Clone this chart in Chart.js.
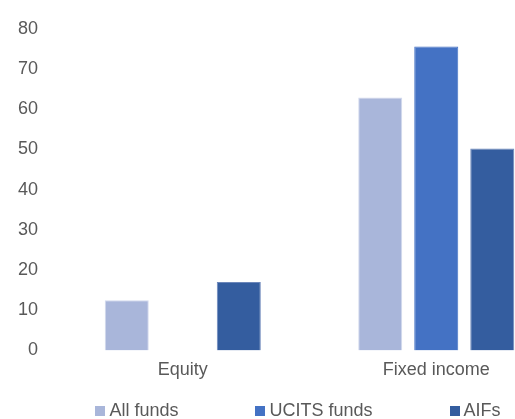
<!DOCTYPE html>
<html>
<head>
<meta charset="utf-8">
<script src="https://cdn.jsdelivr.net/npm/chart.js@4"></script>
<style>
  html, body { margin: 0; padding: 0; background: #fff; overflow: hidden; }
  #wrap { position: absolute; left: 0; top: 0; width: 563px; height: 419px; }
  #legend {
    position: absolute; left: 0; top: 400px; width: 596px;
    display: flex; justify-content: center; gap: 77px;
    font: 18px "Liberation Sans", Arial, sans-serif; color: #595959;
  }
  #legend .item { display: flex; align-items: baseline; white-space: nowrap; }
  #legend .box { display: inline-block; width: 10px; height: 10px; margin-right: 4px; }
</style>
</head>
<body>
<div id="wrap"><canvas id="fundChart"></canvas></div>
<div id="legend"></div>
<script>
// asset classes on the x axis
var categories = ['Equity', 'Fixed income'];

// share per fund type, %
var seriesNames = ['All funds', 'UCITS funds', 'AIFs'];
var allFunds = [12.5, 62.9];
var ucitsFunds = [0, 75.6];
var aifs = [17.0, 50.2];

var yTicks = [0, 10, 20, 30, 40, 50, 60, 70, 80];

var colors = ['#A9B6DA', '#4472C4', '#345D9F'];
var edges = ['#D3DAEE', '#4472C4', '#6C87BA'];

var values = [allFunds, ucitsFunds, aifs];

var datasets = seriesNames.map(function (name, i) {
    return {
        label: name,
        data: values[i],
        backgroundColor: colors[i],
        borderColor: edges[i],
        borderWidth: { top: 1, left: 1, right: 1, bottom: 0 },
        barPercentage: 0.786,
        categoryPercentage: 0.663
    };
});

var textColor = '#595959';
var fontFamily = '"Liberation Sans", Arial, sans-serif';

var ctx = document.getElementById('fundChart').getContext('2d');

var chart = new Chart(ctx, {
    type: 'bar',
    data: {
        labels: categories,
        datasets: datasets
    },
    options: {
        responsive: true,
        maintainAspectRatio: false,
        animation: false,
        layout: {
            padding: { top: 27, left: 0, right: 0, bottom: 29 }
        },
        plugins: {
            legend: { display: false },
            tooltip: { enabled: false }
        },
        scales: {
            x: {
                grid: { display: false, drawTicks: false },
                border: { display: false },
                ticks: {
                    color: textColor,
                    padding: 9,
                    font: { family: fontFamily, size: 18 }
                }
            },
            y: {
                min: 0,
                max: 80,
                afterBuildTicks: function (axis) {
                    axis.ticks = yTicks.map(function (v) { return { value: v }; });
                },
                grid: { display: false, drawTicks: false },
                border: { display: false },
                ticks: {
                    color: textColor,
                    padding: 18,
                    font: { family: fontFamily, size: 18 }
                }
            }
        }
    }
});

// legend as html, built from the same series
var legend = document.getElementById('legend');
seriesNames.forEach(function (name, i) {
    var item = document.createElement('span');
    item.className = 'item';
    var box = document.createElement('span');
    box.className = 'box';
    box.style.background = colors[i];
    item.appendChild(box);
    item.appendChild(document.createTextNode(name));
    legend.appendChild(item);
});
</script>
</body>
</html>
